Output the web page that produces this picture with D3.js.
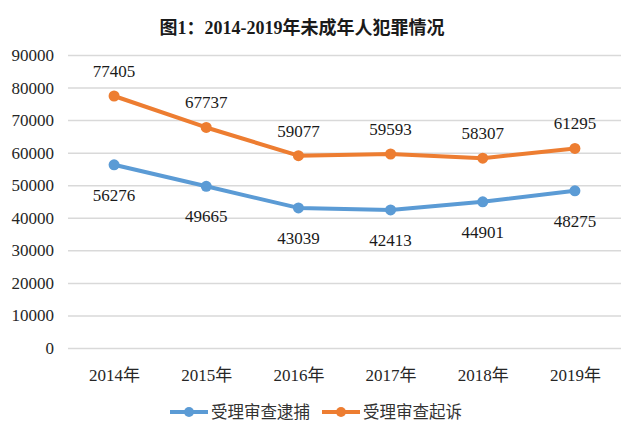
<!DOCTYPE html>
<html><head><meta charset="utf-8">
<script src="https://cdn.jsdelivr.net/npm/d3@7"></script>
<style>body{margin:0;background:#fff}</style>
</head><body>
<svg id="c" width="640" height="438"></svg>
<script>
const categories = ["2014年","2015年","2016年","2017年","2018年","2019年"];
const arrests = [56276, 49665, 43039, 42413, 44901, 48275];
const prosecutions = [77405, 67737, 59077, 59593, 58307, 61295];
const seriesNames = ["受理审查逮捕","受理审查起诉"];
const yTicks = [0,10000,20000,30000,40000,50000,60000,70000,80000,90000];
const title = "图1：2014-2019年未成年人犯罪情况";

const svg = d3.select("#c");
const L = 68, R = 621, T = 55, B = 348;
const serif = "Liberation Serif, DejaVu Serif, serif";
const cjk = "Liberation Serif, Noto Sans CJK SC, serif";
const x = d3.scalePoint().domain(categories).range([L, R]).padding(0.5);
const y = d3.scaleLinear().domain([0, 90000]).range([B, T]);

svg.append("text").attr("x", 302).attr("y", 34).attr("text-anchor","middle")
  .attr("font-family", cjk).attr("font-weight","bold").attr("font-size", 18).attr("fill","#1a1a1a").text(title);

const ya = svg.append("g").attr("transform", `translate(${L},0)`)
  .call(d3.axisLeft(y).tickValues(yTicks).tickSize(-(R-L)).tickPadding(14).tickFormat(d3.format("d")))
  .attr("font-family", serif).attr("font-size", 17);
ya.select(".domain").remove();
ya.selectAll(".tick line").attr("stroke","#d9d9d9").attr("stroke-width",1.5);
ya.selectAll(".tick text").attr("fill","#262626");

const xa = svg.append("g").attr("transform", `translate(0,${B})`)
  .call(d3.axisBottom(x).tickSize(0).tickPadding(21))
  .attr("font-family", cjk).attr("font-size", 17);
xa.select(".domain").remove();
xa.selectAll(".tick text").attr("fill","#262626");

const colors = ["#5B9BD5", "#ED7D31"];
const data = [arrests, prosecutions];
const line = d3.line().x((d,i)=>x(categories[i])).y(d=>y(d));
data.forEach((vals, k) => {
  svg.append("path").datum(vals).attr("d", line).attr("fill","none")
    .attr("stroke", colors[k]).attr("stroke-width", 4).attr("stroke-linejoin","round");
  svg.selectAll(null).data(vals).enter().append("circle")
    .attr("cx",(d,i)=>x(categories[i])).attr("cy", d=>y(d)).attr("r",5.5).attr("fill",colors[k]);
  svg.selectAll(null).data(vals).enter().append("text")
    .attr("x",(d,i)=>x(categories[i])).attr("y", d=>y(d) + (k===0 ? 36 : -19))
    .attr("text-anchor","middle").attr("font-family", serif).attr("font-size", 17)
    .attr("fill","#1a1a1a").text(d=>d);
});

const legX = [170, 322];
seriesNames.forEach((n,k) => {
  const g = svg.append("g").attr("transform", `translate(${legX[k]},412)`);
  g.append("line").attr("x1",0).attr("x2",38).attr("stroke",colors[k]).attr("stroke-width",4);
  g.append("circle").attr("cx",19).attr("r",5).attr("fill",colors[k]);
  g.append("text").attr("x",41).attr("y",6).attr("font-family", cjk).attr("font-size", 16.5)
    .attr("fill","#333").text(n);
});
</script>
</body></html>
